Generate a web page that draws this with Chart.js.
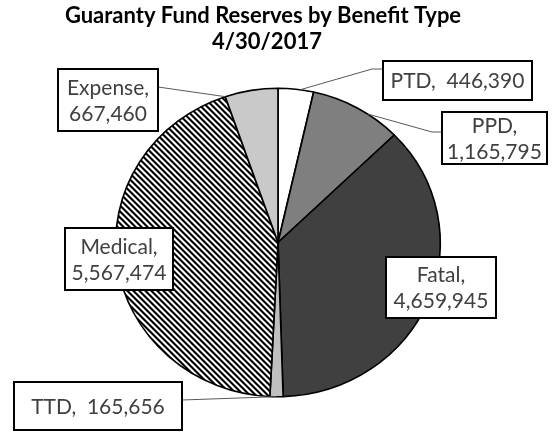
<!DOCTYPE html>
<html>
<head>
<meta charset="utf-8">
<script src="https://cdn.jsdelivr.net/npm/chart.js@4"></script>
<style>
  html, body { margin: 0; padding: 0; background: #fff; }
  #wrap { width: 555px; height: 433px; position: relative; }
</style>
</head>
<body>
<div id="wrap"><canvas id="pie"></canvas></div>
<script>
// Data
const titleLines = ["Guaranty Fund Reserves by Benefit Type", "4/30/2017"];
const categories = ["PTD", "PPD", "Fatal", "TTD", "Medical", "Expense"];
const reserves = [446390, 1165795, 4659945, 165656, 5567474, 667460];

// Styles
const sliceColors = ["#ffffff", "#7f7f7f", "#404040", "#bfbfbf", "hatch", "#c9c9c9"];
const FONT = "Lato, 'Open Sans', sans-serif";
const stretchX = 1.052; // source picture is a bit wider than tall

// Label boxes (x, y, w, h), where the leader line leaves the box, and where on the slice it lands
const labelBoxes = [
  { x: 383, y: 61, w: 149, h: 39, oneLine: true, elbow: [372, 69], from: [383, 69], at: 0.62 },
  { x: 442, y: 112, w: 105, h: 52, elbow: [432, 132], from: [442, 132], at: 0.63 },
  { x: 386, y: 257, w: 110, h: 61 },
  { x: 14, y: 382, w: 168, h: 48, oneLine: true, elbow: null, from: [182, 400], at: 0.5 },
  { x: 65, y: 228, w: 108, h: 62 },
  { x: 58, y: 69, w: 100, h: 62, elbow: null, from: [158, 87], at: 0.0 }
];

const canvas = document.getElementById("pie");

// diagonal hatch for Medical, drawn pixel by pixel so it stays crisp
function makeHatch() {
  const n = 6;
  const tile = document.createElement("canvas");
  tile.width = tile.height = n;
  const g = tile.getContext("2d");
  g.fillStyle = "#fff";
  g.fillRect(0, 0, n, n);
  g.fillStyle = "#000";
  for (let y = 0; y < n; y++)
    for (let x = 0; x < n; x++)
      if ((x - y + n) % n < 3) g.fillRect(x, y, 1, 1);
  const pat = canvas.getContext("2d").createPattern(tile, "repeat");
  pat.setTransform(new DOMMatrix().scale(1 / stretchX, 1));
  return pat;
}
const hatch = makeHatch();
const fills = sliceColors.map(c => c === "hatch" ? hatch : c);

const fmt = v => v.toLocaleString("en-US");

// stretch the pie sideways a little
const stretchPlugin = {
  id: "stretch",
  beforeDatasetsDraw(chart) {
    const a = chart.chartArea, ctx = chart.ctx;
    const cx = (a.left + a.right) / 2;
    ctx.save();
    ctx.translate(cx, 0); ctx.scale(stretchX, 1); ctx.translate(-cx, 0);
  },
  afterDatasetsDraw(chart) { chart.ctx.restore(); }
};

// title, leader lines, label boxes
const labelPlugin = {
  id: "labels",
  afterDraw(chart) {
    const ctx = chart.ctx;
    ctx.save();
    ctx.fillStyle = "#000";
    ctx.textAlign = "center";
    ctx.textBaseline = "middle";
    ctx.font = "bold 22px " + FONT;
    ctx.fillText(titleLines[0], 263, 16);
    ctx.fillText(titleLines[1], 267, 42);

    const meta = chart.getDatasetMeta(0);
    labelBoxes.forEach((b, i) => {
      if (b.from) {
        const p = meta.data[i].getProps(["x", "y", "startAngle", "endAngle", "outerRadius"], true);
        const ang = p.startAngle + b.at * (p.endAngle - p.startAngle);
        const ax = p.x + stretchX * p.outerRadius * Math.cos(ang);
        const ay = p.y + p.outerRadius * Math.sin(ang);
        ctx.strokeStyle = "#595959";
        ctx.lineWidth = 1;
        ctx.beginPath();
        ctx.moveTo(ax, ay);
        if (b.elbow) ctx.lineTo(b.elbow[0], b.elbow[1]);
        ctx.lineTo(b.from[0], b.from[1]);
        ctx.stroke();
      }
      ctx.fillStyle = "#fff";
      ctx.fillRect(b.x, b.y, b.w, b.h);
      ctx.strokeStyle = "#000";
      ctx.lineWidth = 2;
      ctx.strokeRect(b.x, b.y, b.w, b.h);
      ctx.fillStyle = "#404040";
      ctx.font = "21px " + FONT;
      const cx = b.x + b.w / 2, cy = b.y + b.h / 2 + 1;
      if (b.oneLine) {
        ctx.fillText(categories[i] + ",  " + fmt(reserves[i]), cx, cy);
      } else {
        ctx.fillText(categories[i] + ",", cx, cy - 13);
        ctx.fillText(fmt(reserves[i]), cx, cy + 13);
      }
    });
    ctx.restore();
  }
};

new Chart(canvas, {
  type: "pie",
  data: {
    labels: categories,
    datasets: [{
      data: reserves,
      backgroundColor: fills,
      borderColor: "#000",
      borderWidth: 1.6,
      hoverOffset: 0
    }]
  },
  options: {
    responsive: true,
    maintainAspectRatio: false,
    animation: false,
    events: [],
    layout: { padding: { top: 87, bottom: 35, left: 123, right: 122 } },
    plugins: {
      legend: { display: false },
      title: { display: false },
      tooltip: { enabled: false }
    }
  },
  plugins: [stretchPlugin, labelPlugin]
});
</script>
</body>
</html>
